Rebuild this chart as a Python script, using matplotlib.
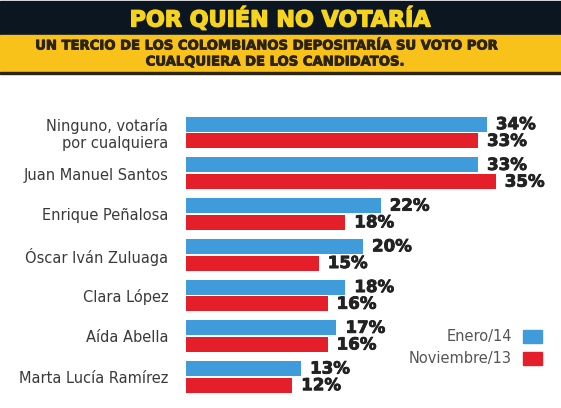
import matplotlib as mpl
import matplotlib.pyplot as plt
import matplotlib.patheffects as pe
from matplotlib.patches import Rectangle

mpl.use('Agg')

candidatos = ["Ninguno, votaría\npor cualquiera", "Juan Manuel Santos", "Enrique Peñalosa",
              "Óscar Iván Zuluaga", "Clara López", "Aída Abella", "Marta Lucía Ramírez"]
enero14 = [34, 33, 22, 20, 18, 17, 13]
noviembre13 = [33, 35, 18, 15, 16, 16, 12]
series = ["Enero/14", "Noviembre/13"]

azul = "#3f9bda"
rojo = "#e41f2a"
W, H = 561, 408


def grueso(color, w=1.0):
    return [pe.withStroke(linewidth=w, foreground=color)]


fig = plt.figure(figsize=(W / 100, H / 100), dpi=100)
fig.patch.set_facecolor("white")

# cabecera
fig.patches.append(Rectangle((0, 1 - 35 / H), 1, 34 / H, transform=fig.transFigure,
                             color="#0b1620", zorder=0))
fig.patches.append(Rectangle((0, 1 - 72 / H), 1, 37 / H, transform=fig.transFigure,
                             color="#f8c21b", zorder=0))
fig.patches.append(Rectangle((0, 1 - 74 / H), 1, 2 / H, transform=fig.transFigure,
                             color="#2a2412", zorder=0))
fig.text(280 / W, 1 - 19 / H, "POR QUIÉN NO VOTARÍA", ha="center", va="center",
         fontsize=16, fontweight="bold", color="#f6d31c",
         path_effects=grueso("#f6d31c", 1.0))
fig.text(268 / W, 1 - 46 / H, "UN TERCIO DE LOS COLOMBIANOS DEPOSITARÍA SU VOTO POR",
         ha="center", va="center", fontsize=9.5, fontweight="bold", color="#2b2414",
         path_effects=grueso("#2b2414", 0.6))
fig.text(276 / W, 1 - 62 / H, "CUALQUIERA DE LOS CANDIDATOS.",
         ha="center", va="center", fontsize=9.5, fontweight="bold", color="#2b2414",
         path_effects=grueso("#2b2414", 0.6))

# grafico
ax = fig.add_axes([186 / W, 11 / H, 375 / W, 285 / H])
y = list(range(len(candidatos)))
alto = 0.37
yb = [v - 0.2 for v in y]
yr = [v + 0.21 for v in y]
ax.barh(yb, enero14, height=alto, color=azul, label=series[0])
ax.barh(yr, noviembre13, height=alto, color=rojo, label=series[1])

for yy, v in zip(yb, enero14):
    ax.annotate(f"{v}%", (v, yy), xytext=(9, 0), textcoords="offset pixels",
                ha="left", va="center", fontsize=12, fontweight="bold", color="#222222",
                path_effects=grueso("#222222", 0.6))
for yy, v in zip(yr, noviembre13):
    ax.annotate(f"{v}%", (v, yy), xytext=(9, 0), textcoords="offset pixels",
                ha="left", va="center", fontsize=12, fontweight="bold", color="#222222",
                path_effects=grueso("#222222", 0.6))

for yy, c in zip(y, candidatos):
    ax.text(-2.0, yy + 0.05, c, ha="right", va="center", fontsize=10.5, color="#3a3a3a",
            linespacing=1.2)

ax.set_xlim(0, 375 / 8.85)
ax.set_ylim(6.5, -0.5)
ax.axis("off")

# leyenda
fig.patches.append(Rectangle((523 / W, 1 - 343 / H), 19 / W, 13 / H,
                             transform=fig.transFigure, color=azul))
fig.patches.append(Rectangle((523 / W, 1 - 365 / H), 19 / W, 13 / H,
                             transform=fig.transFigure, color=rojo))
fig.text(512 / W, 1 - 336 / H, series[0], ha="right", va="center", fontsize=10.5, color="#555555")
fig.text(512 / W, 1 - 358 / H, series[1], ha="right", va="center", fontsize=10.5, color="#555555")

fig.savefig("out.png", dpi=100)
